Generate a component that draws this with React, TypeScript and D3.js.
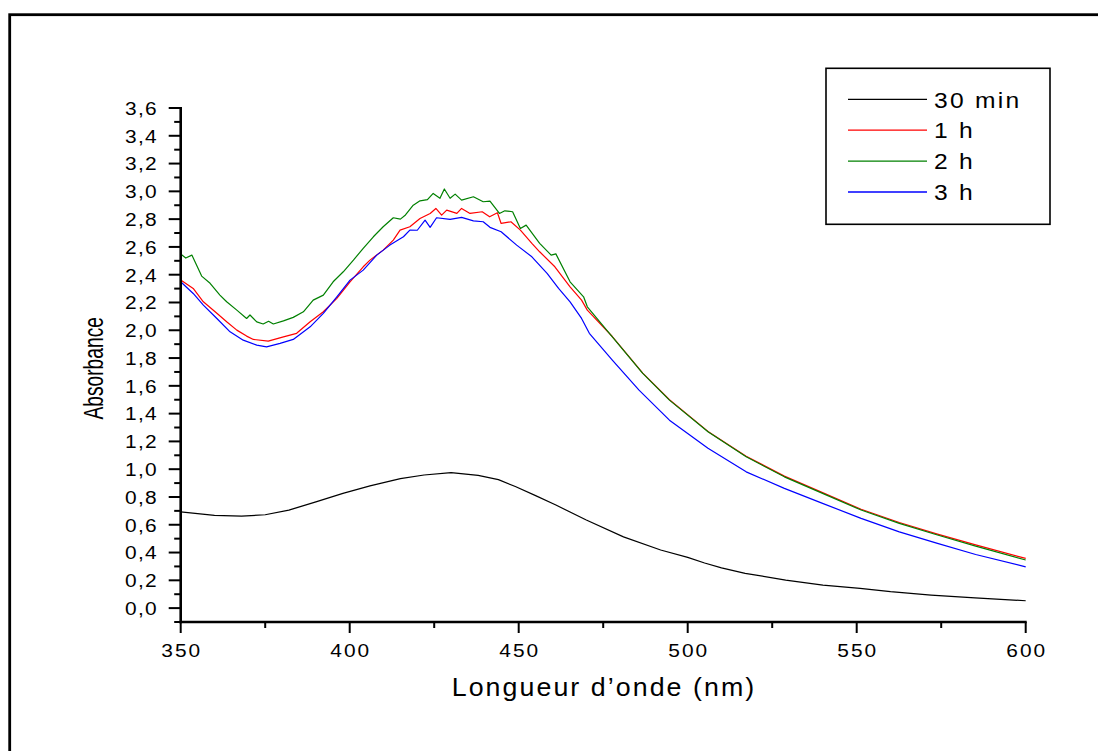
import React from "react";
import * as d3 from "d3";

// ---- data ----
const seriesLabels = ["30 min", "1 h", "2 h", "3 h"];
const seriesColors = ["#000000", "#ff0000", "#008000", "#0000ff"];

const wl30 = [350, 355, 360, 368, 375, 382, 390, 398, 406, 415, 422, 430, 438, 444, 449, 455, 461, 470, 481, 492, 500, 505, 510, 517, 529, 540, 551, 560, 572, 585, 600];
const abs30 = [0.693, 0.68, 0.668, 0.662, 0.672, 0.705, 0.765, 0.826, 0.88, 0.932, 0.958, 0.975, 0.955, 0.925, 0.875, 0.81, 0.742, 0.634, 0.513, 0.418, 0.365, 0.325, 0.29, 0.25, 0.202, 0.165, 0.142, 0.118, 0.094, 0.073, 0.053];

const wl1h = [350, 353.7, 356.7, 360.7, 363.6, 366.6, 369.5, 371.5, 375.9, 380.4, 384.3, 388.3, 392.2, 396.2, 400.1, 404, 406, 409.9, 412.9, 414.9, 417.8, 420.8, 423.8, 425.5, 427.2, 428.7, 431.7, 433.1, 435.6, 439.2, 441.4, 443.7, 444.8, 447.7, 450.5, 453.9, 456.2, 460.7, 465.2, 468.6, 470.3, 477.7, 486.7, 494.6, 506, 517.3, 528.6, 539.9, 551.3, 562.6, 573.9, 585.2, 600];
const abs1h = [2.361, 2.301, 2.205, 2.122, 2.061, 2.001, 1.958, 1.934, 1.922, 1.953, 1.978, 2.061, 2.133, 2.23, 2.349, 2.457, 2.505, 2.577, 2.649, 2.721, 2.745, 2.805, 2.841, 2.877, 2.829, 2.865, 2.841, 2.877, 2.841, 2.853, 2.817, 2.846, 2.769, 2.781, 2.721, 2.626, 2.565, 2.457, 2.313, 2.217, 2.145, 1.955, 1.692, 1.5, 1.272, 1.093, 0.95, 0.831, 0.712, 0.616, 0.533, 0.455, 0.358];

const wl2h = [350, 351.5, 353.3, 356.2, 358.7, 361.6, 363.6, 366.6, 369.5, 370.5, 372.5, 374.4, 376, 377.4, 380.4, 383.3, 386.3, 389.2, 392.2, 395.1, 398.1, 401.1, 404, 407, 409.9, 412.9, 415, 416.5, 418.8, 420.8, 423, 424.7, 426.7, 428, 429.7, 431.2, 433.1, 436.6, 439.5, 441.5, 444.3, 445.9, 448.2, 450.5, 452.2, 456.2, 459.6, 461, 465.2, 469.2, 470.3, 477.7, 486.7, 494.6, 506, 517.3, 528.6, 539.9, 551.3, 562.6, 573.9, 585.2, 600];
const abs2h = [2.549, 2.52, 2.541, 2.39, 2.338, 2.253, 2.205, 2.145, 2.085, 2.11, 2.06, 2.045, 2.065, 2.045, 2.068, 2.093, 2.133, 2.217, 2.253, 2.349, 2.421, 2.505, 2.59, 2.673, 2.745, 2.81, 2.8, 2.83, 2.9, 2.932, 2.94, 2.985, 2.95, 3.017, 2.95, 2.98, 2.937, 2.961, 2.925, 2.93, 2.841, 2.86, 2.853, 2.733, 2.757, 2.626, 2.541, 2.55, 2.349, 2.241, 2.169, 1.953, 1.69, 1.497, 1.269, 1.089, 0.945, 0.826, 0.706, 0.61, 0.526, 0.446, 0.346];

const wl3h = [350, 353.7, 356.7, 360.7, 364.6, 368.5, 372.5, 375.4, 379.4, 383.3, 388.3, 392.2, 396.2, 400.1, 404, 408, 411.9, 415.9, 417.8, 420, 422.3, 423.8, 425.7, 429.7, 433.1, 436.6, 439.5, 441.5, 444.8, 449.4, 453.9, 458.4, 461.8, 465.2, 468.6, 470.9, 477.7, 485.6, 494.6, 506, 517.3, 528.6, 539.9, 551.3, 562.6, 573.9, 585.2, 600];
const abs3h = [2.349, 2.265, 2.181, 2.085, 1.989, 1.929, 1.893, 1.881, 1.906, 1.934, 2.025, 2.122, 2.241, 2.361, 2.433, 2.541, 2.613, 2.673, 2.721, 2.72, 2.793, 2.741, 2.81, 2.798, 2.813, 2.788, 2.781, 2.741, 2.709, 2.613, 2.529, 2.41, 2.302, 2.205, 2.085, 1.978, 1.785, 1.569, 1.353, 1.15, 0.981, 0.862, 0.754, 0.646, 0.549, 0.466, 0.386, 0.297];

const xMajorTicks = [350, 400, 450, 500, 550, 600];
const xMinorTicks = [375, 425, 475, 525, 575];
const yMajorTicks = [0, 0.2, 0.4, 0.6, 0.8, 1.0, 1.2, 1.4, 1.6, 1.8, 2.0, 2.2, 2.4, 2.6, 2.8, 3.0, 3.2, 3.4, 3.6];
const yMinorTicks = [-0.1, 0.1, 0.3, 0.5, 0.7, 0.9, 1.1, 1.3, 1.5, 1.7, 1.9, 2.1, 2.3, 2.5, 2.7, 2.9, 3.1, 3.3, 3.5];

const xTitle = "Longueur d’onde (nm)";
const yTitle = "Absorbance";

const FONT = "'Liberation Sans', Arial, Helvetica, sans-serif";

export default function App() {
  const x = d3.scaleLinear().domain([350, 600]).range([180.7, 1025.7]);
  const y = d3.scaleLinear().domain([-0.1, 3.6]).range([622, 108]);
  const line = d3
    .line<[number, number]>()
    .x((d) => x(d[0]))
    .y((d) => y(d[1]));

  const series = [
    { wl: wl30, abs: abs30 },
    { wl: wl1h, abs: abs1h },
    { wl: wl2h, abs: abs2h },
    { wl: wl3h, abs: abs3h },
  ];

  const fmtY = (v: number) => d3.format(".1f")(v).replace(".", ",");
  const x0 = x(350);
  const y0 = y(-0.1);

  const legendX = 826;
  const legendY = 68.3;
  const legendRowY = (i: number) => 99.3 + i * 30.9;

  return (
    <svg
      width={1098}
      height={751}
      style={{ position: "absolute", left: 0, top: 0, display: "block", background: "#fff" }}
      fontFamily={FONT}
    >
      <rect x={0} y={0} width={1098} height={751} fill="#fff" />
      {/* outer frame (extends past right/bottom edges) */}
      <rect x={9.7} y={14.7} width={1200} height={900} fill="none" stroke="#000" strokeWidth={2.8} />

      {/* data lines */}
      {series.map((s, i) => (
        <path
          key={i}
          d={line(s.wl.map((w, k) => [w, s.abs[k]] as [number, number])) || ""}
          fill="none"
          stroke={seriesColors[i]}
          strokeWidth={1.2}
          strokeLinejoin="round"
        />
      ))}

      {/* axes */}
      <line x1={x0} x2={x0} y1={y(3.6) - 1} y2={y0 + 1.2} stroke="#000" strokeWidth={2.6} />
      <line x1={x0 - 1.2} x2={x(600) + 1} y1={y0} y2={y0} stroke="#000" strokeWidth={2.6} />

      {yMajorTicks.map((v) => (
        <line key={"ym" + v} x1={x0 - 12} x2={x0} y1={y(v)} y2={y(v)} stroke="#000" strokeWidth={2} />
      ))}
      {yMinorTicks.map((v) => (
        <line key={"yn" + v} x1={x0 - 6.5} x2={x0} y1={y(v)} y2={y(v)} stroke="#000" strokeWidth={2} />
      ))}
      {xMajorTicks.map((v) => (
        <line key={"xm" + v} x1={x(v)} x2={x(v)} y1={y0} y2={y0 + 11} stroke="#000" strokeWidth={2} />
      ))}
      {xMinorTicks.map((v) => (
        <line key={"xn" + v} x1={x(v)} x2={x(v)} y1={y0} y2={y0 + 6} stroke="#000" strokeWidth={2} />
      ))}

      {/* tick labels */}
      {yMajorTicks.map((v) => (
        <text
          key={"yl" + v}
          transform={`translate(158,${y(v) + 6.8}) scale(1.1,1)`}
          textAnchor="end"
          fontSize={19}
          letterSpacing={1.2}
          fill="#000"
        >
          {fmtY(v)}
        </text>
      ))}
      {xMajorTicks.map((v) => (
        <text
          key={"xl" + v}
          transform={`translate(${x(v) + 1},657) scale(1.1,1)`}
          textAnchor="middle"
          fontSize={19}
          letterSpacing={1.8}
          fill="#000"
        >
          {String(v)}
        </text>
      ))}

      {/* axis titles */}
      <text
        transform={`translate(604,696) scale(1.03,1)`}
        textAnchor="middle"
        fontSize={26}
        letterSpacing={2}
        fill="#000"
      >
        {xTitle}
      </text>
      <text
        transform={`translate(103,368.3) scale(1.45,1) rotate(-90)`}
        textAnchor="middle"
        fontSize={19.2}
        fill="#000"
      >
        {yTitle}
      </text>

      {/* legend */}
      <rect x={legendX} y={legendY} width={224} height={156} fill="#fff" stroke="#000" strokeWidth={1.6} />
      {seriesLabels.map((lab, i) => (
        <g key={lab}>
          <line x1={848} x2={927} y1={legendRowY(i)} y2={legendRowY(i)} stroke={seriesColors[i]} strokeWidth={1.3} />
          <text
            transform={`translate(934,${legendRowY(i) + 8.2}) scale(1.12,1)`}
            fontSize={22}
            letterSpacing={2}
            fill="#000"
          >
            {lab}
          </text>
        </g>
      ))}
    </svg>
  );
}
